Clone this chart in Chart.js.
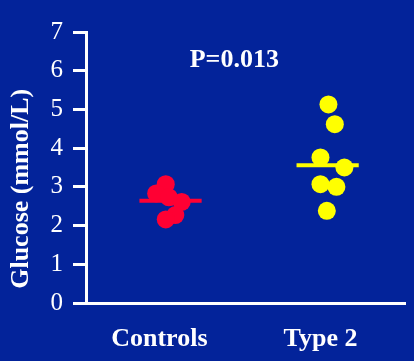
<!DOCTYPE html>
<html>
<head>
<meta charset="utf-8">
<script src="https://cdn.jsdelivr.net/npm/chart.js@4/dist/chart.umd.min.js"></script>
<style>
  html, body { margin: 0; padding: 0; background: #03239a; }
  #c { display: block; background: #03239a; }
</style>
</head>
<body>
<canvas id="c" width="414" height="361"></canvas>
<script>
// ---- data ----
const categories = ['Controls', 'Type 2'];
const categoryLabelPos = [0.46, 1.47];
const yTickValues = [0, 1, 2, 3, 4, 5, 6, 7];

const controlsX = [0.50, 0.44, 0.52, 0.60, 0.56, 0.50];
const controlsY = [3.07, 2.83, 2.73, 2.61, 2.27, 2.16];

const type2X = [1.52, 1.56, 1.47, 1.62, 1.47, 1.57, 1.51];
const type2Y = [5.13, 4.62, 3.76, 3.50, 3.07, 3.00, 2.38];

const meanCenters = [0.53, 1.515];
const meanValues = [2.64, 3.56];
const pValueText = 'P=0.013';
const pValuePos = { x: 0.93, y: 6.27 };
const yTitle = 'Glucose (mmol/L)';
const yTitleCenterValue = 2.95;

// ---- build ----
const halfW = 0.195;
const toPts = (xs, ys) => xs.map((x, i) => ({ x: x, y: ys[i] }));
const meanLine = (c, m) => [{ x: c - halfW, y: m }, { x: c + halfW, y: m }];

const RED = '#ff0033';
const YEL = '#ffff00';
const WHITE = '#ffffff';
const SERIF = '"Liberation Serif", "Times New Roman", serif';

const textPlugin = {
  id: 'texts',
  afterDatasetsDraw(chart) {
    const { ctx, scales } = chart;
    ctx.save();
    ctx.fillStyle = WHITE;
    ctx.font = 'bold 26px ' + SERIF;
    ctx.textAlign = 'center';
    ctx.textBaseline = 'middle';
    ctx.fillText(pValueText, scales.x.getPixelForValue(pValuePos.x), scales.y.getPixelForValue(pValuePos.y));
    // y-axis title
    ctx.translate(21, scales.y.getPixelForValue(yTitleCenterValue));
    ctx.rotate(-Math.PI / 2);
    ctx.font = 'bold 26px ' + SERIF;
    ctx.fillText(yTitle, 0, 0);
    ctx.restore();
  }
};

new Chart(document.getElementById('c'), {
  type: 'scatter',
  data: {
    datasets: [
      { type: 'line', data: meanLine(meanCenters[0], meanValues[0]), borderColor: RED, borderWidth: 4, pointRadius: 0, order: 3 },
      { type: 'line', data: meanLine(meanCenters[1], meanValues[1]), borderColor: YEL, borderWidth: 4, pointRadius: 0, order: 3 },
      { data: toPts(controlsX, controlsY), backgroundColor: RED, borderColor: RED, borderWidth: 0, pointRadius: 9, order: 1 },
      { data: toPts(type2X, type2Y), backgroundColor: YEL, borderColor: YEL, borderWidth: 0, pointRadius: 9, order: 1 }
    ]
  },
  options: {
    responsive: false,
    animation: false,
    events: [],
    layout: { padding: { top: 32, right: 4, left: 0, bottom: 0 } },
    plugins: { legend: { display: false }, tooltip: { enabled: false } },
    scales: {
      x: {
        type: 'linear',
        min: 0,
        max: 2,
        afterBuildTicks(scale) { scale.ticks = categoryLabelPos.map(v => ({ value: v })); },
        afterFit(scale) { scale.height = 58; },
        ticks: {
          callback(value, index) { return categories[index]; },
          color: WHITE,
          font: { family: SERIF, size: 26, weight: 'bold' },
          padding: 21,
          maxRotation: 0,
          autoSkip: false
        },
        grid: { display: true, drawOnChartArea: false, drawTicks: false },
        border: { display: true, color: WHITE, width: 3 }
      },
      y: {
        min: 0,
        max: 7,
        afterBuildTicks(scale) { scale.ticks = yTickValues.map(v => ({ value: v })); },
        afterFit(scale) { scale.width = 86; },
        ticks: {
          color: WHITE,
          font: { family: SERIF, size: 25 },
          padding: 10
        },
        grid: { drawOnChartArea: false, drawTicks: true, tickLength: 13, color: WHITE, lineWidth: 3 },
        border: { display: true, color: WHITE, width: 3 },
        title: { display: false, text: yTitle }
      }
    }
  },
  plugins: [textPlugin]
});
</script>
</body>
</html>
